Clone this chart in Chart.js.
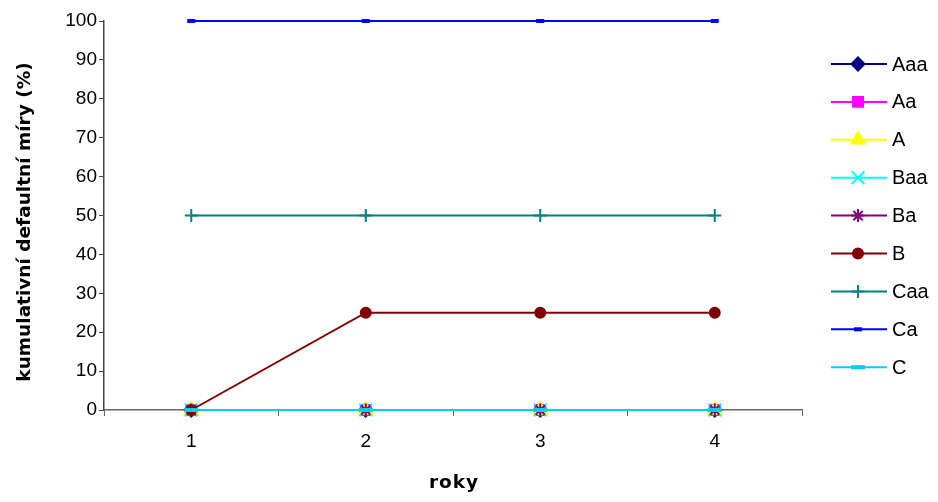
<!DOCTYPE html>
<html>
<head>
<meta charset="utf-8">
<script src="https://cdn.jsdelivr.net/npm/chart.js@4/dist/chart.umd.min.js"></script>
<style>
  html, body { margin: 0; padding: 0; background: #fff; }
  #wrap { width: 938px; height: 502px; }
</style>
</head>
<body>
<div id="wrap"><canvas id="chart" width="938" height="502"></canvas></div>
<script>
// Data
const years = ["1", "2", "3", "4"];
const seriesNames = ["Aaa", "Aa", "A", "Baa", "Ba", "B", "Caa", "Ca", "C"];
const aaaValues = [0, 0, 0, 0];
const aaValues = [0, 0, 0, 0];
const aValues = [0, 0, 0, 0];
const baaValues = [0, 0, 0, 0];
const baValues = [0, 0, 0, 0];
const bValues = [0, 25, 25, 25];
const caaValues = [50, 50, 50, 50];
const caValues = [100, 100, 100, 100];
const cValues = [0, 0, 0, 0];
const yTicks = [0, 10, 20, 30, 40, 50, 60, 70, 80, 90, 100];

const seriesValues = [aaaValues, aaValues, aValues, baaValues, baValues, bValues, caaValues, caValues, cValues];
const seriesColors = ["#000080", "#FF00FF", "#FFFF00", "#00FFFF", "#800080", "#800000", "#008080", "#0000FF", "#00CCFF"];
const seriesMarkers = ["rectRot", "rect", "triangle", "crossRot", "star", "circle", "cross", "line", "line"];
const markerSizes = [6.5, 7, 7.5, 9, 6.5, 5, 6.5, 4, 7];

const fontFamily = "'Liberation Sans', Arial, sans-serif";
const titleFamily = "'DejaVu Sans', Verdana, sans-serif";

const datasets = seriesNames.map((name, i) => ({
    label: name,
    data: seriesValues[i],
    borderColor: seriesColors[i],
    backgroundColor: seriesColors[i],
    pointBackgroundColor: seriesColors[i],
    pointBorderColor: seriesColors[i],
    pointStyle: seriesMarkers[i],
    pointRadius: markerSizes[i],
    pointBorderWidth: seriesMarkers[i] === "line" ? 4 : 2,
    borderWidth: 2,
    tension: 0,
    clip: false,
    order: seriesNames.length - i // later series are painted on top
}));

// Legend at the right, line + marker like the original, plus axis titles
const sideLegend = {
    id: "sideLegend",
    afterDraw(chart) {
        const ctx = chart.ctx;
        const x0 = 831, x1 = 887, xm = 858, xt = 892;
        const top = 64, step = 37.9;
        ctx.save();
        ctx.font = "20px " + fontFamily;
        ctx.textBaseline = "middle";
        ctx.textAlign = "left";
        chart.data.datasets.forEach((ds, i) => {
            const y = top + i * step;
            ctx.strokeStyle = ds.borderColor;
            ctx.lineWidth = 2;
            ctx.beginPath();
            ctx.moveTo(x0, y);
            ctx.lineTo(x1, y);
            ctx.stroke();
            ctx.fillStyle = ds.pointBackgroundColor;
            ctx.strokeStyle = ds.pointBorderColor;
            ctx.lineWidth = ds.pointBorderWidth;
            Chart.helpers.drawPoint(ctx, { pointStyle: ds.pointStyle, radius: ds.pointRadius, rotation: 0, borderWidth: ds.pointBorderWidth }, xm, y);
            ctx.fillStyle = "#000";
            ctx.fillText(ds.label, xt, y + 1);
        });

        // axis titles
        const area = chart.chartArea;
        ctx.fillStyle = "#000";
        ctx.textAlign = "center";
        ctx.textBaseline = "alphabetic";
        ctx.font = "bold 18.5px " + titleFamily;
        ctx.letterSpacing = "1px";
        ctx.fillText("roky", (area.left + area.right) / 2 + 1, 488);
        ctx.letterSpacing = "0px";
        ctx.translate(30, 222);
        ctx.rotate(-Math.PI / 2);
        ctx.fillText("kumulativní defaultní míry (%)", 0, 0);
        ctx.restore();
    }
};

new Chart(document.getElementById("chart"), {
    type: "line",
    data: { labels: years, datasets: datasets },
    options: {
        responsive: false,
        animation: false,
        layout: { padding: { top: 21, right: 136, left: 0, bottom: 0 } },
        plugins: {
            legend: { display: false },
            tooltip: { enabled: false }
        },
        scales: {
            x: {
                type: "category",
                offset: true,
                afterFit: (scale) => { scale.height = 92; },
                grid: {
                    offset: true,
                    drawOnChartArea: false,
                    drawTicks: true,
                    tickLength: 6,
                    color: "#666"
                },
                border: { color: "#666", width: 1.5 },
                ticks: {
                    color: "#000",
                    padding: 14,
                    font: { family: fontFamily, size: 19 }
                },
                title: { display: false }
            },
            y: {
                min: 0,
                max: 100,
                afterFit: (scale) => { scale.width = 104; },
                afterBuildTicks: (scale) => { scale.ticks = yTicks.map(v => ({ value: v })); },
                grid: {
                    drawOnChartArea: false,
                    drawTicks: true,
                    tickLength: 5,
                    color: "#444"
                },
                border: { color: "#444", width: 1.5 },
                ticks: {
                    color: "#000",
                    padding: 2,
                    font: { family: fontFamily, size: 19 }
                },
                title: { display: false }
            }
        }
    },
    plugins: [sideLegend]
});
</script>
</body>
</html>
